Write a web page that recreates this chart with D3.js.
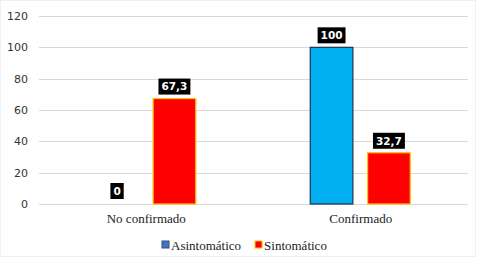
<!DOCTYPE html>
<html><head><meta charset="utf-8">
<script src="https://cdn.jsdelivr.net/npm/d3@7"></script>
<style>body{margin:0;background:#fff}svg{display:block}</style>
</head><body>
<script>
const categories = ["No confirmado", "Confirmado"];
const seriesNames = ["Asintomático", "Sintomático"];
const asintomatico = [0, 100];
const sintomatico = [67.3, 32.7];
const yTicks = [0, 20, 40, 60, 80, 100, 120];

const W = 478, H = 257;
const m = {left: 39, right: 10, top: 16, bottom: 53};
const svg = d3.select("body").append("svg").attr("width", W).attr("height", H);
svg.append("rect").attr("x",0.5).attr("y",0.5).attr("width",W-3).attr("height",H-1)
  .attr("fill","#fff").attr("stroke","#f0f0f0");

const x = d3.scaleBand().domain(categories).range([m.left, W - m.right]).paddingInner(0).paddingOuter(0);
const half = x.bandwidth() / 2;
const xs = d3.scaleBand().domain(seriesNames).range([half - 51, half + 50]).paddingInner(0.24).paddingOuter(0);
const y = d3.scaleLinear().domain([0, 120]).range([H - m.bottom, m.top]);

// grid
svg.append("g").selectAll("line").data(yTicks).join("line")
  .attr("x1", m.left).attr("x2", W - m.right)
  .attr("y1", d => Math.round(y(d)) + 0.5).attr("y2", d => Math.round(y(d)) + 0.5)
  .attr("stroke", "#d9d9d9").attr("stroke-width", 1);

// y axis labels
const yAxis = d3.axisLeft(y).tickValues(yTicks).tickSize(0).tickPadding(11);
const gy = svg.append("g").attr("transform", `translate(${m.left},0)`).call(yAxis);
gy.select(".domain").remove();
gy.selectAll("text").attr("font-family", "DejaVu Sans, Verdana").attr("font-size", 11).attr("fill", "#333");

// x axis labels
const xAxis = d3.axisBottom(x).tickSize(0).tickPadding(10);
const gx = svg.append("g").attr("transform", `translate(0,${H - m.bottom})`).call(xAxis);
gx.select(".domain").remove();
gx.selectAll("text").attr("font-family", "Liberation Serif, serif").attr("font-size", 13).attr("fill", "#222");

const data = categories.map((c, i) => ({cat: c, vals: [
  {s: seriesNames[0], v: asintomatico[i]}, {s: seriesNames[1], v: sintomatico[i]}]}));
const fill = {"Asintomático": "#00b0f0", "Sintomático": "#ff0000"};
const stroke = {"Asintomático": "#1f3050", "Sintomático": "#ffc000"};
const fmt = v => String(v).replace(".", ",");

const groups = svg.append("g").selectAll("g").data(data).join("g")
  .attr("transform", d => `translate(${x(d.cat)},0)`);
groups.selectAll("rect").data(d => d.vals.filter(e => e.v > 0)).join("rect")
  .attr("x", d => xs(d.s) + 0.5).attr("width", xs.bandwidth() - 1)
  .attr("y", d => y(d.v)).attr("height", d => y(0) - y(d.v))
  .attr("fill", d => fill[d.s]).attr("stroke", d => stroke[d.s]).attr("stroke-width", 1.2);

// data labels
const lbl = groups.selectAll("g.lbl").data(d => d.vals).join("g").attr("class", "lbl")
  .attr("transform", d => `translate(${xs(d.s) + xs.bandwidth()/2},${y(d.v) - (d.v === 0 ? 13 : 12)})`);
lbl.each(function(d) {
  const g = d3.select(this);
  const t = g.append("text").text(fmt(d.v)).attr("text-anchor", "middle").attr("dy", "0.36em")
    .attr("font-family", "DejaVu Sans, Verdana").attr("font-weight", "bold").attr("font-size", 10.5).attr("fill", "#fff");
  const w = t.node().getComputedTextLength();
  g.insert("rect", "text").attr("x", -w/2 - 3).attr("y", -8).attr("width", w + 6).attr("height", 16).attr("fill", "#000");
});

// legend
const leg = svg.append("g").attr("transform", `translate(162,245)`);
const items = leg.selectAll("g").data(seriesNames).join("g");
items.append("rect").attr("x", 0).attr("y", -4).attr("width", 7).attr("height", 7)
  .attr("fill", (d,i) => i === 0 ? "#4472c4" : "#ff0000")
  .attr("stroke", (d,i) => i === 0 ? "#2f4f7f" : "#ffc000").attr("stroke-width", 1);
items.append("text").attr("x", 9).attr("dy", "0.35em").text(d => d)
  .attr("font-family", "Liberation Serif, serif").attr("font-size", 13).attr("fill", "#222");
let off = 0;
items.each(function() {
  d3.select(this).attr("transform", `translate(${off},0)`);
  off += this.getBBox().width + 14;
});
</script>
</body></html>
